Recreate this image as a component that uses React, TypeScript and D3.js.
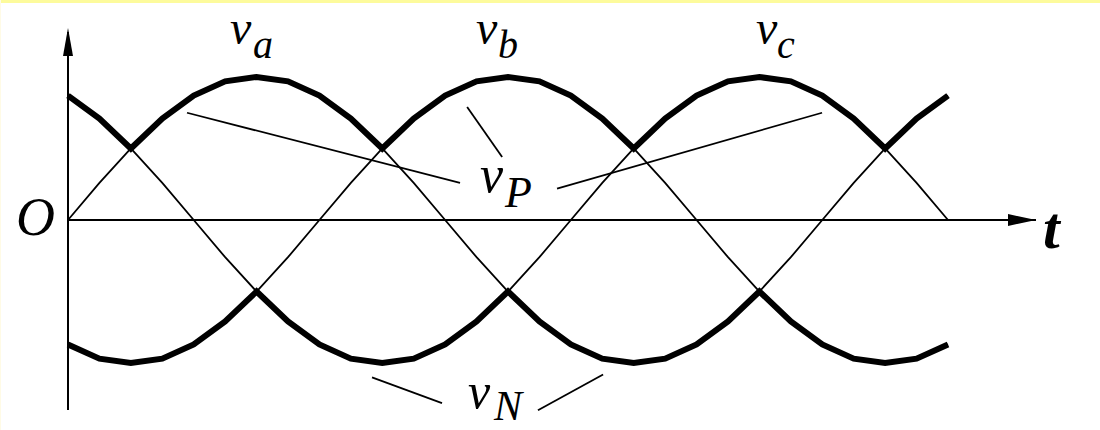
import React from 'react';
import * as d3 from 'd3';

// phase angle in degrees, sampled every 15 deg from 0 to 420
const angles = [
  0, 15, 30, 45, 60, 75, 90, 105, 120, 135, 150, 165, 180, 195, 210,
  225, 240, 255, 270, 285, 300, 315, 330, 345, 360, 375, 390, 405, 420,
];

// per-unit phase voltages
const va = [
  0, 0.26, 0.5, 0.71, 0.87, 0.97, 1, 0.97, 0.87, 0.71, 0.5, 0.26, 0, -0.26, -0.5,
  -0.71, -0.87, -0.97, -1, -0.97, -0.87, -0.71, -0.5, -0.26, 0, 0.26, 0.5, 0.71, 0.87,
];
const vb = [
  -0.87, -0.97, -1, -0.97, -0.87, -0.71, -0.5, -0.26, 0, 0.26, 0.5, 0.71, 0.87, 0.97, 1,
  0.97, 0.87, 0.71, 0.5, 0.26, 0, -0.26, -0.5, -0.71, -0.87, -0.97, -1, -0.97, -0.87,
];
const vc = [
  0.87, 0.71, 0.5, 0.26, 0, -0.26, -0.5, -0.71, -0.87, -0.97, -1, -0.97, -0.87, -0.71, -0.5,
  -0.26, 0, 0.26, 0.5, 0.71, 0.87, 0.97, 1, 0.97, 0.87, 0.71, 0.5, 0.26, 0,
];

// leader lines for the envelope labels: [angle0, value0, angle1, value1]
const leaders = [
  [56.8, 0.75, 187.1, 0.26],
  [190.5, 0.79, 207.2, 0.44],
  [233.4, 0.22, 359.9, 0.75],
  [145.1, -1.1, 178.5, -1.28],
  [224.3, -1.33, 255.4, -1.08],
];

const W = 1100;
const H = 430;
const serif = '"Liberation Serif", "DejaVu Serif", serif';

export default function App() {
  const x = d3.scaleLinear().domain([0, 420]).range([68, 948]);
  const y = d3.scaleLinear().domain([-1, 1]).range([363, 77]);

  const line = d3
    .line<number>()
    .x((_, i) => x(angles[i]))
    .y((d) => y(d));

  const phases = [va, vb, vc];
  const vP = angles.map((_, i) => d3.max(phases, (p) => p[i]) as number);
  const vN = angles.map((_, i) => d3.min(phases, (p) => p[i]) as number);

  const x0 = x(0);
  const y0 = y(0);

  return (
    <svg
      width={W}
      height={H}
      style={{ position: 'absolute', left: 0, top: 0, background: '#fff' }}
    >
      <rect x={0} y={0} width={W} height={3} fill="#fdfb9c" />
      <rect x={0} y={0} width={1} height={H} fill="#fffbe6" />

      {/* axes */}
      <line x1={x0} y1={410} x2={x0} y2={32} stroke="#000" strokeWidth={2} />
      <path d={`M${x0},28 L${x0 - 5},56 L${x0 + 5},56 Z`} fill="#000" />
      <line x1={x0} y1={y0} x2={1036} y2={y0} stroke="#000" strokeWidth={2} />
      <path d={`M1036,${y0} L1008,${y0 - 6} L1008,${y0 + 6} Z`} fill="#000" />

      {/* thin phase waves */}
      {phases.map((p, i) => (
        <path key={i} d={line(p) || ''} fill="none" stroke="#000" strokeWidth={1.8} />
      ))}

      {/* envelopes */}
      {[vP, vN].map((p, i) => (
        <path
          key={i}
          d={line(p) || ''}
          fill="none"
          stroke="#000"
          strokeWidth={6}
          strokeLinejoin="miter"
        />
      ))}

      {/* leaders */}
      {leaders.map((l, i) => (
        <line
          key={i}
          x1={x(l[0])}
          y1={y(l[1])}
          x2={x(l[2])}
          y2={y(l[3])}
          stroke="#000"
          strokeWidth={1.8}
        />
      ))}

      <g fontFamily={serif} fontStyle="italic" fill="#000">
        <text x={230} y={44} fontSize={48}>v</text>
        <text x={253} y={58} fontSize={40}>a</text>
        <text x={476} y={44} fontSize={48}>v</text>
        <text x={498} y={58} fontSize={40}>b</text>
        <text x={756} y={44} fontSize={48}>v</text>
        <text x={777} y={58} fontSize={40}>c</text>
        <text x={480} y={192} fontSize={52}>v</text>
        <text x={505} y={207} fontSize={44}>P</text>
        <text x={468} y={408} fontSize={50}>v</text>
        <text x={494} y={420} fontSize={42}>N</text>
        <text x={16} y={235} fontSize={54}>O</text>
        <text x={1043} y={248} fontSize={60} fontWeight="bold">t</text>
      </g>
    </svg>
  );
}
